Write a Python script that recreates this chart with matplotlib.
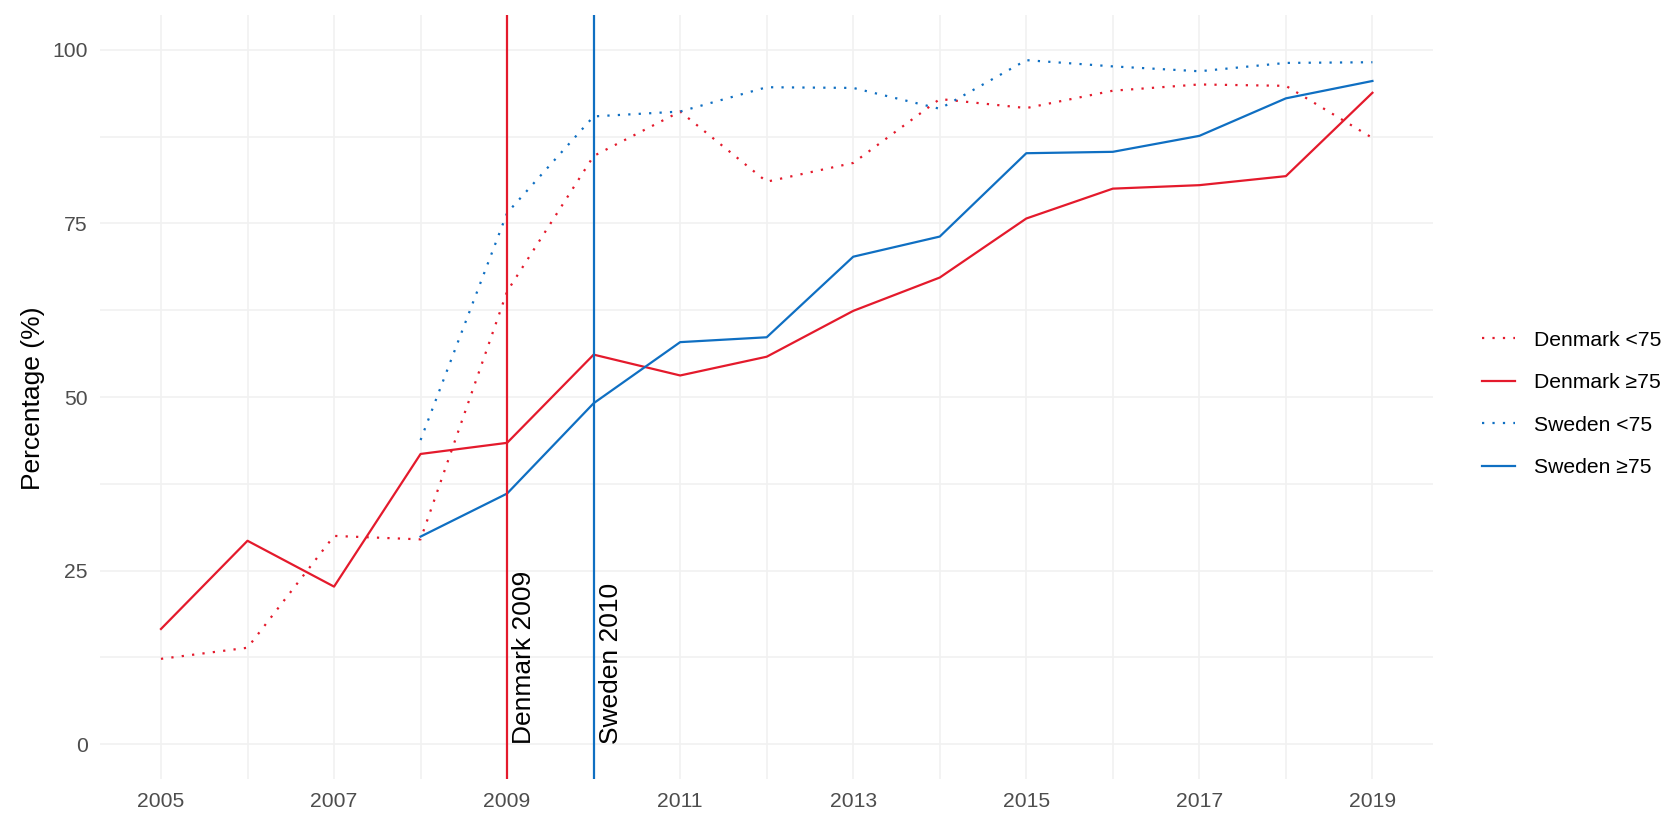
import numpy as np
import matplotlib
matplotlib.use('Agg')
import matplotlib.pyplot as plt
import matplotlib.transforms as mtransforms
from matplotlib.lines import Line2D

plt.rcParams['font.family'] = ['Liberation Sans', 'DejaVu Sans']

# data
years = [2005, 2006, 2007, 2008, 2009, 2010, 2011, 2012, 2013, 2014, 2015, 2016, 2017, 2018, 2019]
dk_lt75 = [12.3, 13.9, 30.0, 29.5, 65.2, 84.7, 91.1, 81.0, 83.7, 92.9, 91.6, 94.1, 95.0, 94.8, 87.3]
dk_ge75 = [16.6, 29.3, 22.7, 41.8, 43.4, 56.1, 53.1, 55.8, 62.4, 67.2, 75.7, 80.0, 80.5, 81.8, 93.8]
se_lt75 = [np.nan, np.nan, np.nan, 43.8, 76.5, 90.4, 91.1, 94.6, 94.5, 91.5, 98.5, 97.6, 96.9, 98.1, 98.2]
se_ge75 = [np.nan, np.nan, np.nan, 29.9, 36.1, 49.1, 57.9, 58.6, 70.2, 73.1, 85.1, 85.3, 87.6, 93.0, 95.5]

labels = ['Denmark <75', 'Denmark \u226575', 'Sweden <75', 'Sweden \u226575']
events = [(2009, 'Denmark 2009'), (2010, 'Sweden 2010')]

x_major = [2005, 2007, 2009, 2011, 2013, 2015, 2017, 2019]
x_minor = [2006, 2008, 2010, 2012, 2014, 2016, 2018]
y_major = [0, 25, 50, 75, 100]
y_minor = [12.5, 37.5, 62.5, 87.5]

RED = '#E41A2C'
BLUE = '#0F6FC2'
DOT = (0, (1, 3.7))
LW = 1.6

fig = plt.figure(figsize=(16.8, 8.38), dpi=100)
ax = fig.add_axes([100.4/1680, 59/838, (1433-100.4)/1680, (779-15)/838])

#grid first
for v in y_major + y_minor:
    ax.axhline(v, color='#F1F1F1', lw=1.2, zorder=0)
for v in x_major + x_minor:
    ax.axvline(v, color='#F1F1F1', lw=1.2, zorder=0)

ax.plot(years, dk_lt75, color=RED, lw=LW, linestyle=DOT)
ax.plot(years, dk_ge75, color=RED, lw=LW)
ax.plot(years, se_lt75, color=BLUE, lw=LW, linestyle=DOT)
ax.plot(years, se_ge75, color=BLUE, lw=LW)

# policy lines
ax.axvline(events[0][0], color=RED, lw=LW)
ax.axvline(events[1][0], color=BLUE, lw=LW)
shifted = mtransforms.offset_copy(ax.transData, fig=fig, x=5, y=0, units='dots')
for x, txt in events:
    ax.text(x, 0, txt, rotation=90, ha='left', va='bottom', fontsize=19, color='black',
            transform=shifted)

ax.set_xlim(2004.3, 2019.7)
ax.set_ylim(-5, 105)
ax.set_xticks(x_major)
ax.set_yticks(y_major)
ax.set_xticklabels([str(v) for v in x_major])
ax.set_yticklabels([str(v) for v in y_major])
ax.tick_params(axis='both', length=0, labelsize=15.2, labelcolor='#4D4D4D')
ax.tick_params(axis='x', pad=9)
ax.tick_params(axis='y', pad=9)
for s in ax.spines.values():
    s.set_visible(False)

fig.text(33/1680, 1 - 398/838, 'Percentage (%)', rotation=90, ha='center', va='center', fontsize=19)

handles = [Line2D([], [], color=RED, lw=LW, linestyle=DOT),
           Line2D([], [], color=RED, lw=LW),
           Line2D([], [], color=BLUE, lw=LW, linestyle=DOT),
           Line2D([], [], color=BLUE, lw=LW)]
fig.legend(handles, labels, loc='center left', bbox_to_anchor=(1471/1680, 1 - 404/838),
           bbox_transform=fig.transFigure, frameon=False, borderpad=0, fontsize=15.2,
           handlelength=1.6, handletextpad=0.9, labelspacing=1.12)

plt.savefig('out.png', dpi=100)
